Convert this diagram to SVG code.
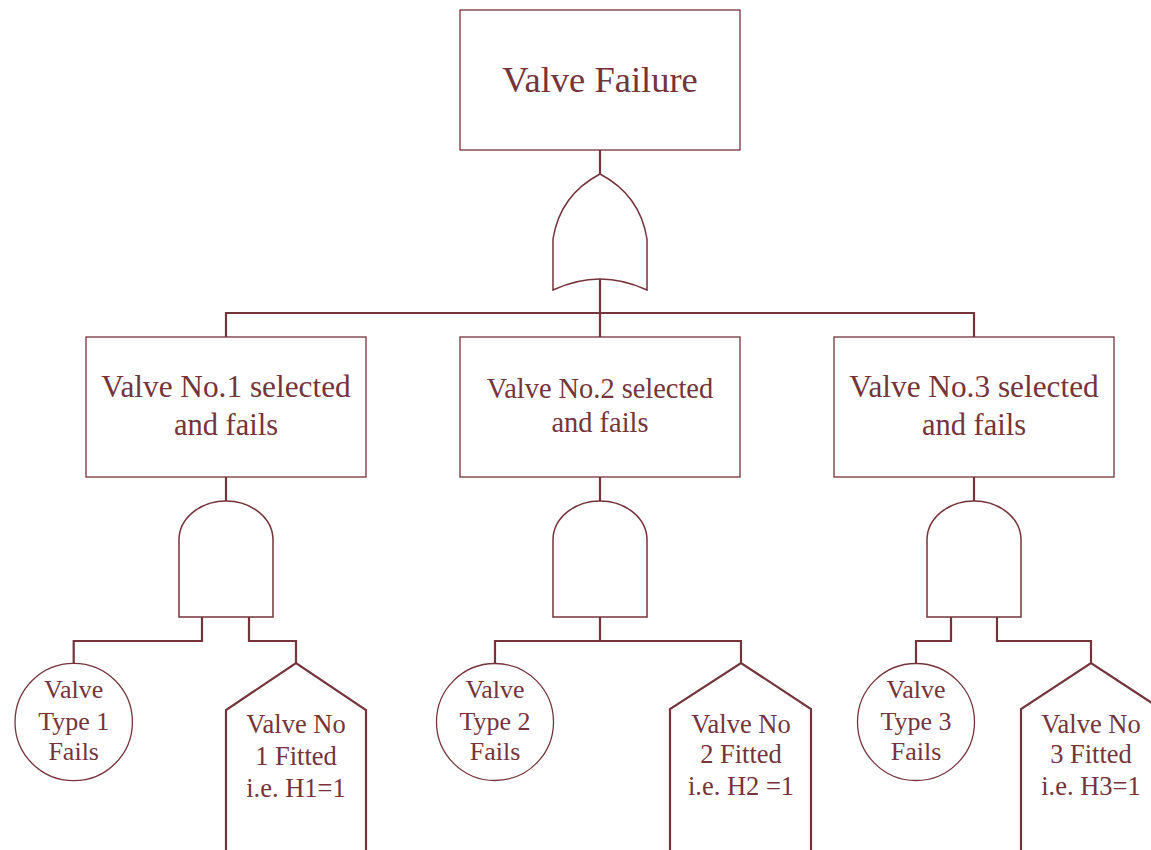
<svg xmlns="http://www.w3.org/2000/svg" width="1151" height="850" viewBox="0 0 1151 850">
<style>
  .box{fill:#fff;stroke:#74343a;stroke-width:1.3}
  .gate{fill:#fff;stroke:#74343a;stroke-width:1.5}
  .ev{fill:#fff;stroke:#74343a;stroke-width:1.3}
  .house{fill:#fff;stroke:#74343a;stroke-width:2.2;stroke-linejoin:miter}
  .wire{fill:none;stroke:#74343a;stroke-width:2.2}
</style>
<rect width="1151" height="850" fill="#fff"/>
<g id="connectors">
  <path class="wire" d="M600 150 V174"/>
  <path class="wire" d="M600 278 V337"/>
  <path class="wire" d="M226 337 V313 H974 V337"/>
  <path class="wire" d="M226 477 V501"/>
  <path class="wire" d="M600 477 V501"/>
  <path class="wire" d="M974 477 V501"/>
  <path class="wire" d="M202 617 V641 H73.7 V663"/>
  <path class="wire" d="M249 617 V641 H296 V663"/>
  <path class="wire" d="M600 617 V641"/>
  <path class="wire" d="M495 663 V641 H741 V663"/>
  <path class="wire" d="M951 617 V641 H916 V663"/>
  <path class="wire" d="M997 617 V641 H1091 V663"/>
</g>
<g font-family="Liberation Serif" fill="#74343a" text-anchor="middle">
<g id="top">
  <rect class="box" x="460" y="10" width="280" height="140"/>
  <text x="600" y="92" font-size="36.5">Valve Failure</text>
</g>
<g id="or-gate">
  <path class="gate" d="M553 290 V239 Q560 195 600 174 Q640 195 647 239 V290 Q600 268 553 290 Z"/>
</g>
<g id="box1">
  <rect class="box" x="86" y="337" width="280" height="140"/>
  <text x="226" y="397" font-size="31.3">Valve No.1 selected</text>
  <text x="226" y="435" font-size="30.5">and fails</text>
</g>
<g id="box2">
  <rect class="box" x="460" y="337" width="280" height="140"/>
  <text x="600" y="398" font-size="28.4">Valve No.2 selected</text>
  <text x="600" y="432" font-size="28.4">and fails</text>
</g>
<g id="box3">
  <rect class="box" x="834" y="337" width="280" height="140"/>
  <text x="974" y="397" font-size="31.3">Valve No.3 selected</text>
  <text x="974" y="435" font-size="30.5">and fails</text>
</g>
<g id="and1">
  <path class="gate" d="M179 617 V540 A47 39 0 0 1 273 540 V617 Z"/>
</g>
<g id="and2">
  <path class="gate" d="M553 617 V540 A47 39 0 0 1 647 540 V617 Z"/>
</g>
<g id="and3">
  <path class="gate" d="M927 617 V540 A47 39 0 0 1 1021 540 V617 Z"/>
</g>
<g id="event1">
  <circle class="ev" cx="73.7" cy="722" r="58.7"/>
  <text x="73.7" y="698" font-size="26">Valve</text>
  <text x="73.7" y="730" font-size="26">Type 1</text>
  <text x="73.7" y="760" font-size="26">Fails</text>
</g>
<g id="event2">
  <circle class="ev" cx="495" cy="722" r="58.5"/>
  <text x="495" y="698" font-size="26">Valve</text>
  <text x="495" y="730" font-size="26">Type 2</text>
  <text x="495" y="760" font-size="26">Fails</text>
</g>
<g id="event3">
  <circle class="ev" cx="916" cy="722" r="58.5"/>
  <text x="916" y="698" font-size="26">Valve</text>
  <text x="916" y="730" font-size="26">Type 3</text>
  <text x="916" y="760" font-size="26">Fails</text>
</g>
<g id="house1">
  <path class="house" d="M226 852 V710 L296 663 L366 710 V852"/>
  <text x="296" y="733" font-size="26.5">Valve No</text>
  <text x="296" y="765" font-size="26.5">1 Fitted</text>
  <text x="296" y="797" font-size="26.5">i.e. H1=1</text>
</g>
<g id="house2">
  <path class="house" d="M670 852 V709 L741 663 L811 709 V852"/>
  <text x="741" y="733" font-size="26.5">Valve No</text>
  <text x="741" y="763" font-size="26.5">2 Fitted</text>
  <text x="741" y="795" font-size="26.5">i.e. H2 =1</text>
</g>
<g id="house3">
  <path class="house" d="M1021 852 V709 L1091 663 L1161 709 V852"/>
  <text x="1091" y="733" font-size="26.5">Valve No</text>
  <text x="1091" y="763" font-size="26.5">3 Fitted</text>
  <text x="1091" y="795" font-size="26.5">i.e. H3=1</text>
</g>
</g>
</svg>
